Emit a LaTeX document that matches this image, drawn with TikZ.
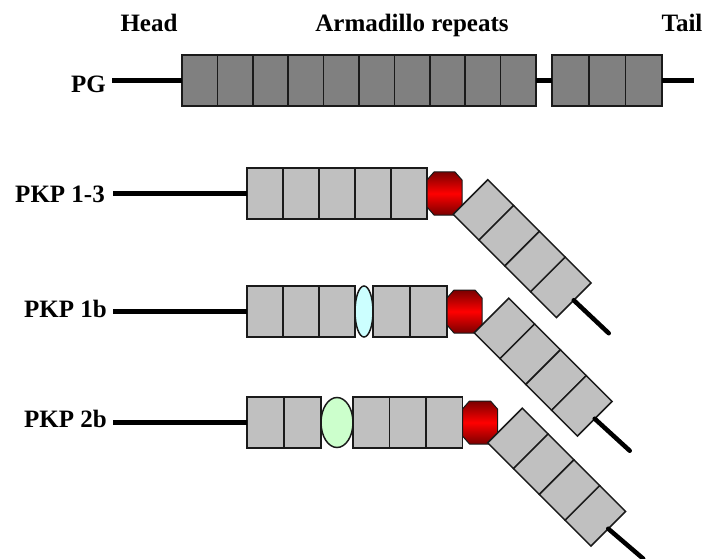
\documentclass[tikz,border=0pt]{standalone}
\usepackage{fontspec}
\setmainfont{Liberation Serif}
\usetikzlibrary{shapes.geometric,calc}
\definecolor{pgfill}{HTML}{808080}
\definecolor{pkfill}{HTML}{C0C0C0}
\definecolor{cyanfill}{HTML}{CCFFFF}
\definecolor{greenfill}{HTML}{CCFFCC}
\definecolor{octdark}{HTML}{7A0000}
\definecolor{octmid}{HTML}{FF0000}
\definecolor{edge}{HTML}{1A1A1A}
\newcommand\octpath[1]{\shadedraw[top color=octdark,bottom color=octdark,middle color=octmid,draw=edge,line width=1pt]
  ($(#1.north west)+(7,0)$) -- ($(#1.north east)+(-7,0)$) -- ($(#1.north east)+(0,8)$) --
  ($(#1.south east)+(0,-8)$) -- ($(#1.south east)+(-7,0)$) -- ($(#1.south west)+(7,0)$) --
  ($(#1.south west)+(0,-8)$) -- ($(#1.north west)+(0,8)$) -- cycle;}
\begin{document}
\begin{tikzpicture}[x=1pt,y=-1pt,
  lab/.style={font=\fontsize{25}{28}\selectfont\bfseries, inner sep=0pt},
  backbone/.style={line width=4.5pt, draw=black},
  tailline/.style={line width=4.5pt, draw=black, line cap=round},
  pgbox/.style={draw=edge, line width=1.7pt, fill=pgfill, minimum height=51pt, inner sep=0pt, outer sep=0pt, anchor=west},
  pkbox/.style={draw=edge, line width=1.5pt, fill=pkfill, minimum height=51pt, inner sep=0pt, outer sep=0pt, anchor=west},
  rbox/.style={pkbox, minimum width=36.5pt, minimum height=49pt, rotate=-45},
  octbox/.style={rectangle, minimum width=35pt, minimum height=43pt, inner sep=0pt, outer sep=0pt, anchor=west},
  insert/.style={ellipse, draw=edge, line width=1.5pt, inner sep=0pt, outer sep=0pt, anchor=west}
]
\useasboundingbox (0,0) rectangle (707,559);

% top labels
\node[lab, anchor=base] (head) at (149,32) {Head};
\node[lab, anchor=base] (arm) at (412,32) {Armadillo repeats};
\node[lab, anchor=base] (tail) at (682,32) {Tail};

% ---------- PG ----------
\node[lab, anchor=base east] (lpg) at (106,93) {PG};
\coordinate (pgs) at (112,80.5);
\coordinate (pge) at (694,80.5);
\node[pgbox, minimum width=35.4pt] (p1) at (182,80.5) {};
\foreach \i [count=\j] in {2,...,10} {\node[pgbox, minimum width=35.4pt] (p\i) at (p\j.east) {};}
\node[pgbox, minimum width=36.7pt] (q1) at (552,80.5) {};
\foreach \i [count=\j] in {2,3} {\node[pgbox, minimum width=36.7pt] (q\i) at (q\j.east) {};}
\draw[backbone] (pgs) -- (p1.west);
\draw[backbone] (p10.east) -- (q1.west);
\draw[backbone] (q3.east) -- (pge);

% ---------- PKP 1-3 ----------
\node[lab, anchor=base east] (l13) at (105,202) {PKP 1-3};
\coordinate (s1) at (113,193.5);
\node[pkbox, minimum width=36pt] (a1) at (247,193.5) {};
\foreach \i [count=\j] in {2,...,5} {\node[pkbox, minimum width=36pt] (a\i) at (a\j.east) {};}
\draw[backbone] (s1) -- (a1.west);
\node[octbox] (o1) at (a5.east) {};
\octpath{o1}
\node[rbox] (ra1) at ($(o1.center)+(26,3.5)$) {};
\foreach \i [count=\j] in {2,3,4} {\node[rbox] (ra\i) at (ra\j.east) {};}
\coordinate (t1) at ($(ra4.east)+(35,33)$);
\draw[tailline] (ra4.east) -- (t1);

% ---------- PKP 1b ----------
\node[lab, anchor=base east] (l1b) at (107,317) {PKP 1b};
\coordinate (s2) at (113,311.5);
\node[pkbox, minimum width=36pt] (b1) at (247,311.5) {};
\foreach \i [count=\j] in {2,3} {\node[pkbox, minimum width=36pt] (b\i) at (b\j.east) {};}
\node[insert, fill=cyanfill, minimum width=18pt, minimum height=51pt] (e1) at (b3.east) {};
\node[pkbox, minimum width=37pt] (b4) at (e1.east) {};
\node[pkbox, minimum width=37pt] (b5) at (b4.east) {};
\draw[backbone] (s2) -- (b1.west);
\node[octbox] (o2) at (b5.east) {};
\octpath{o2}
\node[rbox] (rb1) at ($(o2.center)+(27,4)$) {};
\foreach \i [count=\j] in {2,3,4} {\node[rbox] (rb\i) at (rb\j.east) {};}
\coordinate (t2) at ($(rb4.east)+(35,32)$);
\draw[tailline] (rb4.east) -- (t2);

% ---------- PKP 2b ----------
\node[lab, anchor=base east] (l2b) at (107,427) {PKP 2b};
\coordinate (s3) at (113,422.5);
\node[pkbox, minimum width=37pt] (c1) at (247,422.5) {};
\node[pkbox, minimum width=37pt] (c2) at (c1.east) {};
\node[insert, fill=greenfill, minimum width=32pt, minimum height=50pt] (e2) at (c2.east) {};
\node[pkbox, minimum width=36.5pt] (c3) at (e2.east) {};
\foreach \i [count=\j from 3] in {4,5} {\node[pkbox, minimum width=36.5pt] (c\i) at (c\j.east) {};}
\draw[backbone] (s3) -- (c1.west);
\node[octbox] (o3) at (c5.east) {};
\octpath{o3}
\node[rbox] (rc1) at ($(o3.center)+(25,3)$) {};
\foreach \i [count=\j] in {2,3,4} {\node[rbox] (rc\i) at (rc\j.east) {};}
\coordinate (t3) at ($(rc4.east)+(35,30)$);
\draw[tailline] (rc4.east) -- (t3);
\end{tikzpicture}
\end{document}
